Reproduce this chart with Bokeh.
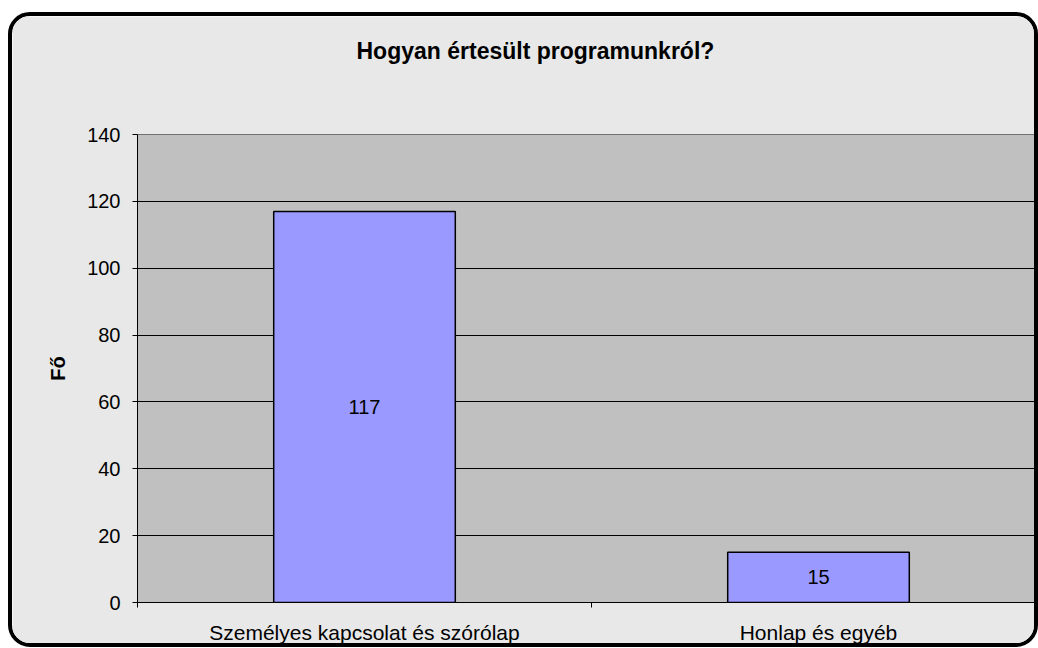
from bokeh.plotting import figure
from bokeh.models import Range1d, FixedTicker, LabelSet, Title, ColumnDataSource
from bokeh.core.properties import value
from bokeh.embed import file_html
from bokeh.resources import INLINE

categories = ["Személyes kapcsolat és szórólap", "Honlap és egyéb"]
counts = [117, 15]
y_ticks = [0, 20, 40, 60, 80, 100, 120, 140]
title_text = "Hogyan értesült programunkról?"
y_label = "Fő"

x_pos = [i + 0.5 for i in range(len(categories))]
boundaries = list(range(len(categories) + 1))
label_y = [c / 2 for c in counts]

FONT = "Liberation Sans"
W, H = 1030, 635
LEFT, TOP, BOTTOM = 125, 118, 49
CAT_PX = 454  # pixel width of one category slot

p = figure(width=W, height=H, output_backend="svg", toolbar_location=None,
           x_range=Range1d(0, (W - LEFT) / CAT_PX), y_range=Range1d(0, 140),
           min_border_left=LEFT, min_border_right=0, min_border_bottom=BOTTOM,
           min_border_top=TOP)

p.title.text = title_text
p.title.text_font = FONT
p.title.text_font_size = "23px"
p.title.text_font_style = "bold"
p.title.text_color = "black"
p.title.align = "left"
p.title.offset = 219
p.title.standoff = 0
# empty spacer between title and plot area
p.add_layout(Title(text=" ", text_font_size="10px", standoff=58), "above")

p.border_fill_color = "#E8E8E8"
p.background_fill_color = "#C0C0C0"
p.outline_line_color = "#707070"
p.styles = {"border": "4px solid black", "border-radius": "22px",
            "overflow": "hidden", "margin-top": "12px", "margin-left": "8px"}

src = ColumnDataSource(dict(x=x_pos, top=counts, ly=label_y,
                            txt=[str(c) for c in counts]))
p.vbar(x="x", top="top", width=0.4, source=src, fill_color="#9999FF",
       line_color="black", line_width=1.5)
p.add_layout(LabelSet(x="x", y="ly", text="txt", source=src,
                      text_align="center", text_baseline="middle",
                      text_font=value(FONT), text_font_size="20px", text_color="black"))

# axes
p.xaxis.ticker = FixedTicker(ticks=x_pos, minor_ticks=boundaries)
p.xaxis.major_label_overrides = {x: c for x, c in zip(x_pos, categories)}
p.xaxis.major_tick_line_color = None
p.xaxis.minor_tick_out = 5
p.xaxis.minor_tick_in = 0
p.xaxis.minor_tick_line_color = "black"
p.xaxis.axis_line_color = "black"
p.xaxis.major_label_standoff = 12
p.xaxis.major_label_text_font = FONT
p.xaxis.major_label_text_font_size = "21px"
p.xaxis.major_label_text_color = "black"

p.yaxis.ticker = FixedTicker(ticks=y_ticks, minor_ticks=[])
p.yaxis.major_tick_out = 5
p.yaxis.major_tick_in = 0
p.yaxis.major_tick_line_color = "black"
p.yaxis.axis_line_color = "black"
p.yaxis.major_label_standoff = 12
p.yaxis.major_label_text_font = FONT
p.yaxis.major_label_text_font_size = "20px"
p.yaxis.major_label_text_color = "black"
p.yaxis.axis_label = y_label
p.yaxis.axis_label_text_font = FONT
p.yaxis.axis_label_text_font_size = "20px"
p.yaxis.axis_label_text_font_style = "bold"
p.yaxis.axis_label_text_color = "black"
p.yaxis.axis_label_standoff = 15

p.xgrid.visible = False
p.ygrid.ticker = FixedTicker(ticks=y_ticks[:-1], minor_ticks=[])
p.ygrid.grid_line_color = "black"
p.ygrid.grid_line_width = 1.2

open("out.html", "w").write(file_html(p, INLINE))
